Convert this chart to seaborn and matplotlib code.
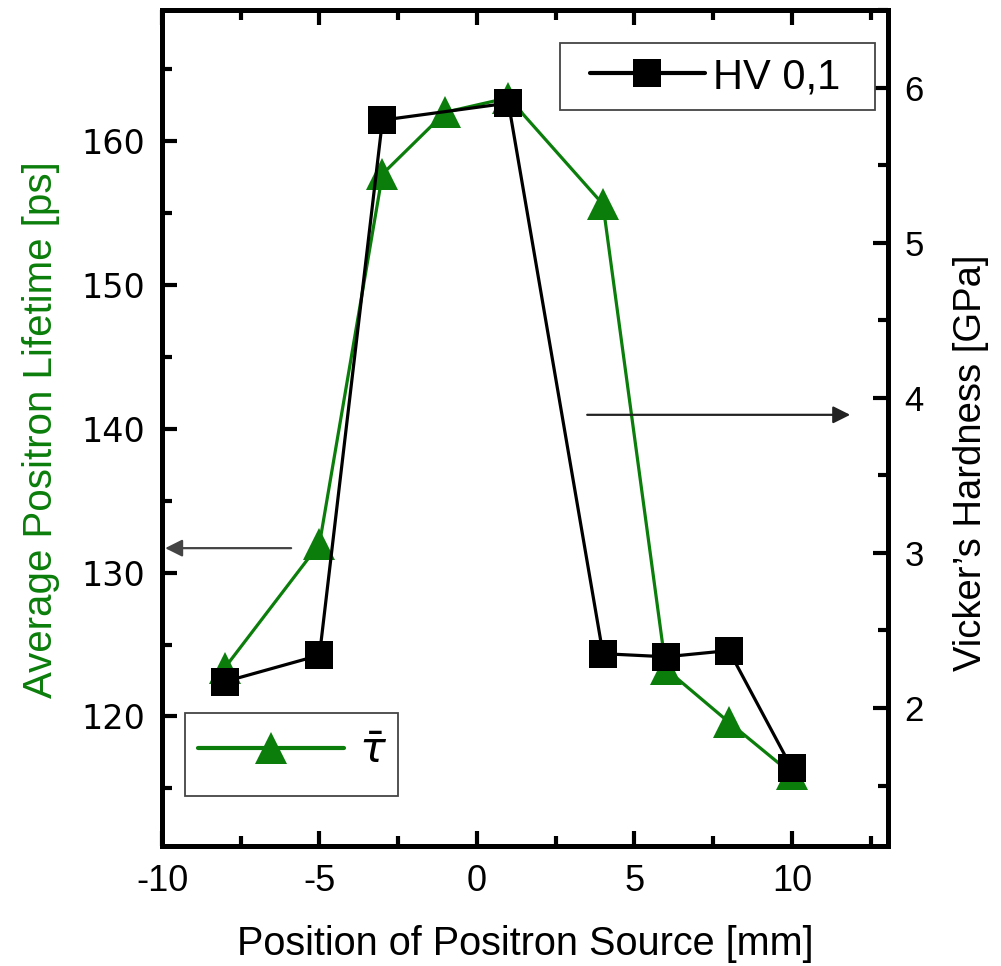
import matplotlib
matplotlib.use("Agg")
import matplotlib.pyplot as plt
import seaborn as sns
import pandas as pd
from matplotlib.ticker import MultipleLocator
from matplotlib.patches import Rectangle

sns.set_style("white")
plt.rcParams['font.family'] = ['Liberation Sans', 'DejaVu Sans']
plt.rcParams.update({"text.color": "black", "axes.labelcolor": "black",
                     "xtick.color": "black", "ytick.color": "black",
                     "axes.unicode_minus": False})

# Data
pos_tau = [-8, -5, -3, -1, 1, 4, 6, 8, 10]
tau = [123.4, 132.0, 157.7, 162.0, 163.0, 155.6, 123.3, 119.6, 116.0]
pos_hv = [-8, -5, -3, 1, 4, 6, 8, 10]
hv = [2.17, 2.34, 5.79, 5.90, 2.35, 2.33, 2.37, 1.61]

xticks = [-10, -5, 0, 5, 10]
yticks_left = [120, 130, 140, 150, 160]
yticks_right = [2, 3, 4, 5, 6]

GREEN = "#0a7d0a"
W, H = 1001, 966

fig = plt.figure(figsize=(10.01, 9.66), dpi=100)
ax1 = fig.add_axes([162/W, 1-846/H, (888-162)/W, (846-10)/H])
ax2 = ax1.twinx()

df1 = pd.DataFrame({"x": pos_tau, "y": tau})
df2 = pd.DataFrame({"x": pos_hv, "y": hv})

sns.lineplot(data=df1, x="x", y="y", ax=ax1, color=GREEN, marker="^",
             markersize=23, markeredgewidth=0, linewidth=2.3,
             sort=False, legend=False)
sns.lineplot(data=df2, x="x", y="y", ax=ax2, color="black", marker="s",
             markersize=20, markeredgewidth=0, linewidth=2.3,
             sort=False, legend=False)

ax1.set_xlim(-10, 13.05)
ax1.set_ylim(111.0, 169.1)
ax2.set_ylim(1.11, 6.5)

ax1.set_xticks(xticks)
ax1.set_yticks(yticks_left)
ax2.set_yticks(yticks_right)
ax1.xaxis.set_minor_locator(MultipleLocator(2.5))
ax1.yaxis.set_minor_locator(MultipleLocator(5))
ax2.yaxis.set_minor_locator(MultipleLocator(0.5))

for ax in (ax1, ax2):
    for s in ax.spines.values():
        s.set_linewidth(3.6)
        s.set_color("black")

ax1.tick_params(axis="x", which="both", direction="in", top=True, bottom=True,
                width=3, color="black")
ax1.tick_params(axis="x", which="major", length=11, pad=13, labelsize=26)
ax1.tick_params(axis="x", which="minor", length=7)
ax1.tick_params(axis="y", which="both", direction="in", left=True, right=False,
                width=3, color="black")
ax1.tick_params(axis="y", which="major", length=11, pad=12, labelsize=24,
                labelfontfamily="DejaVu Sans")
ax1.tick_params(axis="y", which="minor", length=7)
ax2.tick_params(axis="y", which="both", direction="in", right=True, left=False,
                width=3, color="black")
ax2.tick_params(axis="y", which="major", length=11, pad=12, labelsize=25)
ax2.tick_params(axis="y", which="minor", length=7)

ax1.set_xlabel("Position of Positron Source [mm]", fontsize=28.5)
ax1.xaxis.set_label_coords(0.5, -0.095)
ax1.set_ylabel("Average Positron Lifetime [ps]", fontsize=29, color=GREEN)
ax1.yaxis.set_label_coords(-0.14, 0.498)
ax2.set_ylabel("Vicker\u2019s Hardness [GPa]", fontsize=27.5, rotation=90)
ax2.yaxis.set_label_coords(1.09, 0.459)

# Arrows
ax1.annotate("", xy=(-9.9, 131.7), xytext=(-5.9, 131.7),
             arrowprops=dict(arrowstyle="-|>", color="#444444", lw=1.6,
                             mutation_scale=26, shrinkA=0, shrinkB=0))
ax2.annotate("", xy=(11.85, 3.89), xytext=(3.5, 3.89),
             arrowprops=dict(arrowstyle="-|>", color="#222222", lw=1.6,
                             mutation_scale=26, shrinkA=0, shrinkB=0))

# Legend boxes
for (x0, y0, x1, y1) in [(560, 43, 875, 110), (185, 713, 398, 796)]:
    fig.patches.append(Rectangle((x0/W, 1-y1/H), (x1-x0)/W, (y1-y0)/H,
                                 transform=fig.transFigure, fill=True,
                                 facecolor="white", edgecolor="#444444",
                                 linewidth=1.3, zorder=5))

h2 = ax2.get_lines()[0]
h1 = ax1.get_lines()[0]
leg2 = fig.legend([h2], ["HV 0,1"], loc="center left",
                  bbox_to_anchor=(590/W, 1-77/H), fontsize=30,
                  frameon=False, handlelength=2.75,
                  borderpad=0, handletextpad=0.2, borderaxespad=0)
leg2.set_zorder(6)
leg1 = fig.legend([h1], [r"$\bar{\tau}$"], loc="center left",
                  bbox_to_anchor=(198/W, 1-752/H), fontsize=31,
                  frameon=False, handlelength=3.4,
                  borderpad=0, handletextpad=0.35, borderaxespad=0)
leg1.set_zorder(6)
for lg in (leg1, leg2):
    for ln in lg.get_lines():
        ln.set_linewidth(3.0)

fig.savefig("out.png", dpi=100)
